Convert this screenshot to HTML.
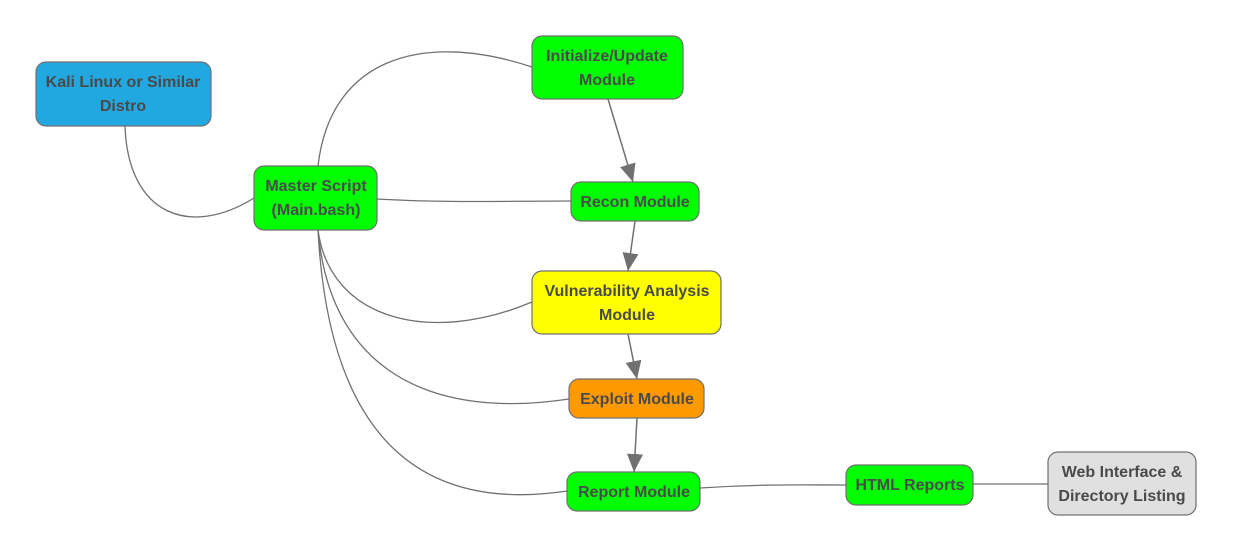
<!DOCTYPE html>
<html><head><meta charset="utf-8"><style>
html,body{margin:0;padding:0;background:#fff;width:1234px;height:553px;overflow:hidden}
text{font-family:"Liberation Sans",sans-serif;font-weight:bold;font-size:16px;fill:#4a4a4a;text-anchor:middle}
</style></head><body>
<svg width="1234" height="553" viewBox="0 0 1234 553" xmlns="http://www.w3.org/2000/svg">
<defs><marker id="a" markerWidth="18" markerHeight="16" refX="18" refY="8" orient="auto" markerUnits="userSpaceOnUse"><path d="M0,0 L18,8 L0,16 Z" fill="#707070"/></marker></defs>
<g fill="none" stroke="#707070" stroke-width="1.3">
<path d="M125,126 C128,215 190,238 254,198"/>
<path d="M318,166 C330,60 420,30 532,67"/>
<path d="M377,199 C450,203 500,201 571,201"/>
<path d="M318,230 C330,320 430,345 532,302"/>
<path d="M318,230 C330,370 430,420 569,399"/>
<path d="M318,230 C330,460 440,510 567,491"/>
<path d="M700,488 C760,484 800,485 846,485"/>
<path d="M973,484 L1048,484"/>
<path d="M608,99 L633,182" stroke-width="1.5" marker-end="url(#a)"/>
<path d="M635,221 L628,271" stroke-width="1.5" marker-end="url(#a)"/>
<path d="M628,334 L637,379" stroke-width="1.5" marker-end="url(#a)"/>
<path d="M637,418 L634,472" stroke-width="1.5" marker-end="url(#a)"/>
</g>
<g stroke="#707070" stroke-width="1.2">
<rect x="36" y="62" width="175" height="64" rx="10" fill="#22a8e0"/>
<rect x="254" y="166" width="123" height="64" rx="10" fill="#00ff00"/>
<rect x="532" y="36" width="151" height="63" rx="10" fill="#00ff00"/>
<rect x="571" y="182" width="128" height="39" rx="10" fill="#00ff00"/>
<rect x="532" y="271" width="189" height="63" rx="10" fill="#ffff00"/>
<rect x="569" y="379" width="135" height="39" rx="10" fill="#ff9900"/>
<rect x="567" y="472" width="133" height="39" rx="10" fill="#00ff00"/>
<rect x="846" y="465" width="127" height="40" rx="10" fill="#00ff00"/>
<rect x="1048" y="452" width="148" height="63" rx="10" fill="#e0e0e0"/>
</g>
<text x="123" y="87">Kali Linux or Similar</text><text x="123" y="111">Distro</text>
<text x="316" y="191">Master Script</text><text x="316" y="215">(Main.bash)</text>
<text x="607" y="61">Initialize/Update</text><text x="607" y="85">Module</text>
<text x="635" y="207">Recon Module</text>
<text x="627" y="296">Vulnerability Analysis</text><text x="627" y="320">Module</text>
<text x="637" y="404">Exploit Module</text>
<text x="634" y="497">Report Module</text>
<text x="910" y="490">HTML Reports</text>
<text x="1122" y="477">Web Interface &amp;</text><text x="1122" y="501">Directory Listing</text>
</svg>
</body></html>
